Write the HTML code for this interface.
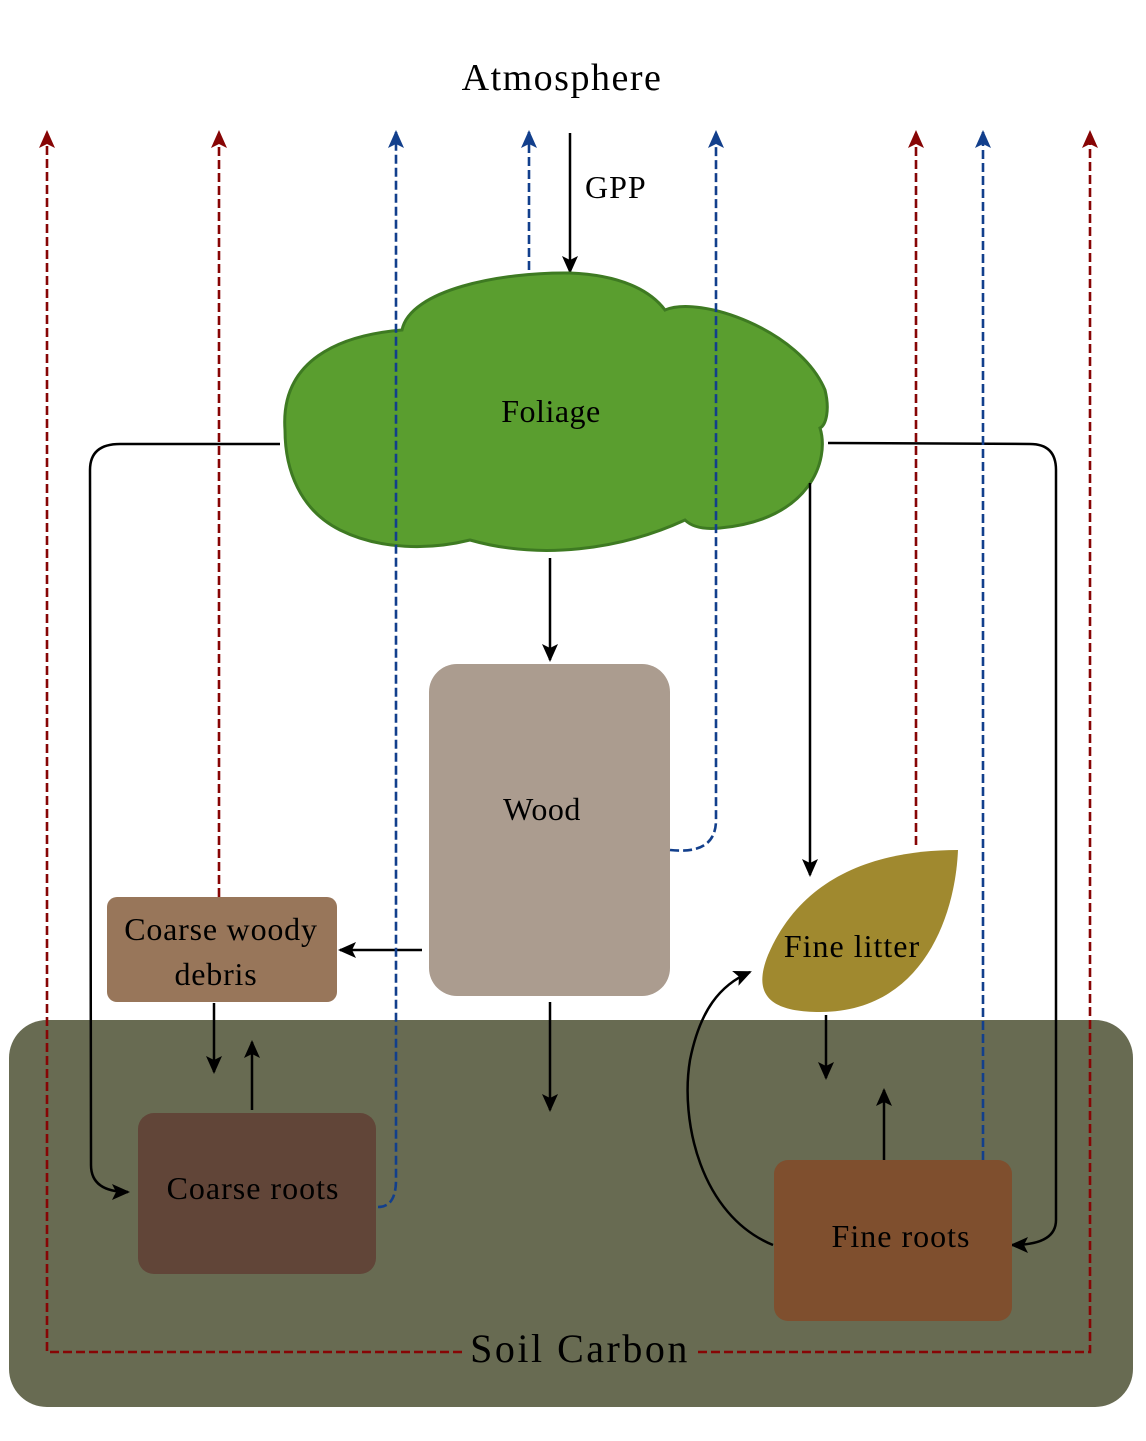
<!DOCTYPE html>
<html><head><meta charset="utf-8"><style>
html,body{margin:0;padding:0;background:#fff;}
svg{display:block;font-family:"Liberation Serif",serif;}
</style></head><body>
<svg width="1146" height="1441" viewBox="0 0 1146 1441" xmlns="http://www.w3.org/2000/svg">
<defs>
<marker id="k" viewBox="-2 -10 22 20" refX="16" refY="0" markerWidth="22" markerHeight="20" orient="auto" markerUnits="userSpaceOnUse"><path d="M0,-8 L18,0 L0,8 L4,0 Z" fill="#000"/></marker>
<marker id="r" viewBox="-2 -10 22 20" refX="16" refY="0" markerWidth="22" markerHeight="20" orient="auto" markerUnits="userSpaceOnUse"><path d="M0,-8 L18,0 L0,8 L4,0 Z" fill="#870505"/></marker>
<marker id="b" viewBox="-2 -10 22 20" refX="16" refY="0" markerWidth="22" markerHeight="20" orient="auto" markerUnits="userSpaceOnUse"><path d="M0,-8 L18,0 L0,8 L4,0 Z" fill="#123f8c"/></marker>
</defs>
<rect x="9" y="1020" width="1124" height="387" rx="38" fill="#686b52"/>
<text x="562" y="90" font-size="38" text-anchor="middle" letter-spacing="1.5">Atmosphere</text>
<line x1="570" y1="133" x2="570" y2="272" stroke="#000" stroke-width="2.5" marker-end="url(#k)"/>
<text x="585" y="198" font-size="32" letter-spacing="1">GPP</text>
<path d="M285,430 C280,360 340,335 402,330 C410,290 500,272 570,273 C620,275 650,290 665,310 C700,295 800,330 825,390 C830,410 826,425 820,428 C830,460 810,520 720,528 C700,530 690,525 685,520 C620,550 540,560 470,540 C430,550 380,550 340,530 C300,510 285,470 285,430 Z" fill="#5a9e2f" stroke="#3e7a22" stroke-width="3"/>
<text x="551" y="422" font-size="32" text-anchor="middle" letter-spacing="0.5">Foliage</text>
<path d="M280,444 L120,444 Q90,444 90,470 L91,1165 Q91,1192 128,1192" fill="none" stroke="#000" stroke-width="2.5" marker-end="url(#k)"/>
<path d="M828,443 L1030,444 Q1056,444 1056,470 L1056,1220 Q1056,1245 1012,1245" fill="none" stroke="#000" stroke-width="2.5" marker-end="url(#k)"/>
<line x1="810" y1="483" x2="810" y2="875" stroke="#000" stroke-width="2.5" marker-end="url(#k)"/>
<line x1="550" y1="558" x2="550" y2="660" stroke="#000" stroke-width="2.5" marker-end="url(#k)"/>
<rect x="429" y="664" width="241" height="332" rx="28" fill="#ab9c8f"/>
<text x="542" y="820" font-size="32" text-anchor="middle" letter-spacing="0.5">Wood</text>
<rect x="107" y="897" width="230" height="105" rx="10" fill="#98765a"/>
<text x="221" y="940" font-size="32" text-anchor="middle" letter-spacing="0.8">Coarse woody</text>
<text x="216" y="985" font-size="32" text-anchor="middle" letter-spacing="0.8">debris</text>
<line x1="422" y1="950" x2="340" y2="950" stroke="#000" stroke-width="2.5" marker-end="url(#k)"/>
<line x1="214" y1="1003" x2="214" y2="1072" stroke="#000" stroke-width="2.5" marker-end="url(#k)"/>
<line x1="252" y1="1110" x2="252" y2="1042" stroke="#000" stroke-width="2.5" marker-end="url(#k)"/>
<line x1="550" y1="1002" x2="550" y2="1110" stroke="#000" stroke-width="2.5" marker-end="url(#k)"/>
<rect x="138" y="1113" width="238" height="161" rx="16" fill="#614538"/>
<text x="253" y="1199" font-size="32" text-anchor="middle" letter-spacing="1">Coarse roots</text>
<path d="M958,850 C870,850 800,880 768,955 C752,995 770,1012 820,1012 C920,1012 955,920 958,850 Z" fill="#a0892f"/>
<text x="852" y="957" font-size="32" text-anchor="middle" letter-spacing="1">Fine litter</text>
<line x1="826" y1="1015" x2="826" y2="1078" stroke="#000" stroke-width="2.5" marker-end="url(#k)"/>
<line x1="884" y1="1160" x2="884" y2="1090" stroke="#000" stroke-width="2.5" marker-end="url(#k)"/>
<rect x="774" y="1160" width="238" height="161" rx="14" fill="#7f4f2e"/>
<text x="901" y="1247" font-size="32" text-anchor="middle" letter-spacing="1">Fine roots</text>
<path d="M773,1245 C700,1215 680,1120 690,1060 C700,1010 720,985 750,972" fill="none" stroke="#000" stroke-width="2.5" marker-end="url(#k)"/>
<g fill="none" stroke-width="2.6" stroke-dasharray="9,4">
<path d="M462,1352 L47,1352 L47,132" stroke="#870505" marker-end="url(#r)"/>
<path d="M698,1352 L1090,1352 L1090,132" stroke="#870505" marker-end="url(#r)"/>
<path d="M219,897 L219,132" stroke="#870505" marker-end="url(#r)"/>
<path d="M916,845 L916,132" stroke="#870505" marker-end="url(#r)"/>
<path d="M378,1207 Q396,1207 396,1180 L396,132" stroke="#123f8c" marker-end="url(#b)"/>
<path d="M529,270 L529,132" stroke="#123f8c" marker-end="url(#b)"/>
<path d="M670,850 Q716,855 716,820 L716,132" stroke="#123f8c" marker-end="url(#b)"/>
<path d="M983,1160 L983,132" stroke="#123f8c" marker-end="url(#b)"/>
</g>
<text x="580" y="1362" font-size="40" text-anchor="middle" letter-spacing="2.5">Soil Carbon</text>
</svg>
</body></html>
